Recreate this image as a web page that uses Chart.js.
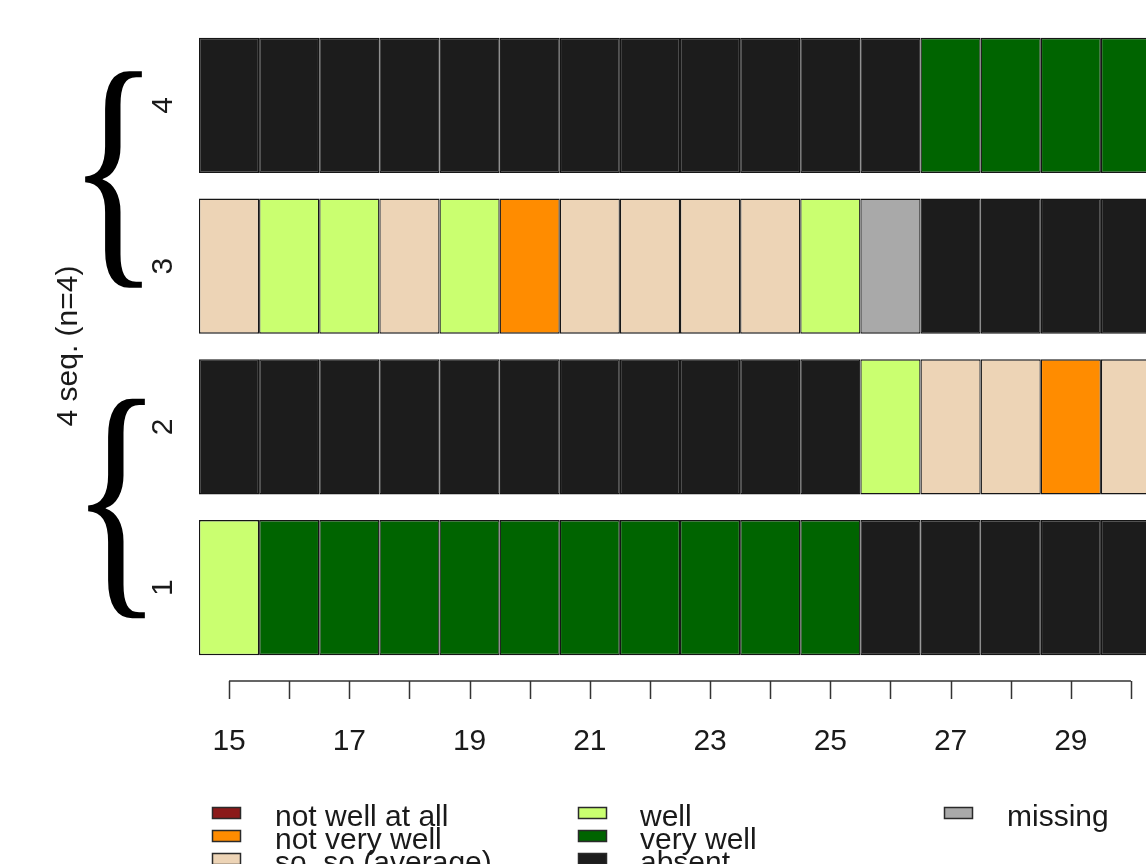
<!DOCTYPE html>
<html>
<head>
<meta charset="utf-8">
<script src="https://cdn.jsdelivr.net/npm/chart.js@4/dist/chart.umd.min.js"></script>
<style>
  html, body { margin: 0; padding: 0; background: #ffffff; }
  canvas { display: block; }
</style>
</head>
<body>
<canvas id="seqplot" width="1146" height="864"></canvas>
<script>
// Time positions (ages) of the sequence columns
const ages = [15, 16, 17, 18, 19, 20, 21, 22, 23, 24, 25, 26, 27, 28, 29, 30];

// State of each sequence at every age
const seq1 = ['well', 'very well', 'very well', 'very well', 'very well', 'very well', 'very well',
  'very well', 'very well', 'very well', 'very well', 'absent', 'absent', 'absent', 'absent', 'absent'];
const seq2 = ['absent', 'absent', 'absent', 'absent', 'absent', 'absent', 'absent', 'absent',
  'absent', 'absent', 'absent', 'well', 'so, so (average)', 'so, so (average)', 'not very well', 'so, so (average)'];
const seq3 = ['so, so (average)', 'well', 'well', 'so, so (average)', 'well', 'not very well',
  'so, so (average)', 'so, so (average)', 'so, so (average)', 'so, so (average)', 'well', 'missing',
  'absent', 'absent', 'absent', 'absent'];
const seq4 = ['absent', 'absent', 'absent', 'absent', 'absent', 'absent', 'absent', 'absent',
  'absent', 'absent', 'absent', 'absent', 'very well', 'very well', 'very well', 'very well'];

// Row labels, top to bottom
const seqLabels = ['4', '3', '2', '1'];
const seqRows = [seq4, seq3, seq2, seq1];

// Alphabet and colour palette
const states = ['not well at all', 'not very well', 'so, so (average)', 'well', 'very well', 'absent', 'missing'];
const stateColors = ['#8B1A1A', '#FF8C00', '#EDD4B6', '#CAFF70', '#006400', '#1C1C1C', '#A9A9A9'];

// Labelled x ticks
const xTickLabels = ['15', '17', '19', '21', '23', '25', '27', '29'];

const yTitle = '4 seq. (n=4)';

const colorOf = s => stateColors[states.indexOf(s)];

// One floating-bar dataset per age: each cell spans [age-0.5, age+0.5]
const datasets = ages.map((age, i) => ({
  label: String(age),
  data: seqRows.map(() => [age - 0.5, age + 0.5]),
  backgroundColor: seqRows.map(row => colorOf(row[i])),
  borderColor: '#161616',
  borderWidth: 1.3,
  borderSkipped: false,
  grouped: false,
  categoryPercentage: 1.0,
  barPercentage: 0.84
}));

const FONT = '"Liberation Sans", Arial, sans-serif';

// Curly brace glyph stretched to fill a box
function drawBrace(ctx, x0, x1, y0, y1) {
  ctx.save();
  ctx.font = '200px "Liberation Serif", "DejaVu Serif", serif';
  ctx.textAlign = 'left';
  ctx.textBaseline = 'alphabetic';
  const m = ctx.measureText('{');
  const w = m.actualBoundingBoxLeft + m.actualBoundingBoxRight;
  const h = m.actualBoundingBoxAscent + m.actualBoundingBoxDescent;
  ctx.translate(x0, y0);
  ctx.scale((x1 - x0) / w, (y1 - y0) / h);
  ctx.fillStyle = '#000000';
  ctx.fillText('{', m.actualBoundingBoxLeft, m.actualBoundingBoxAscent);
  ctx.restore();
}

// Axis, row labels, braces and legend in base-graphics style
const decorations = {
  id: 'decorations',
  afterDraw(chart) {
    const ctx = chart.ctx;
    const xs = chart.scales.x;
    const ys = chart.scales.y;
    ctx.save();

    // x axis: line from first to last age, tick at every age
    const axisY = 681;
    ctx.strokeStyle = '#333333';
    ctx.lineWidth = 1.5;
    ctx.beginPath();
    ctx.moveTo(xs.getPixelForValue(ages[0]), axisY);
    ctx.lineTo(xs.getPixelForValue(ages[ages.length - 1]), axisY);
    ages.forEach(a => {
      const px = Math.round(xs.getPixelForValue(a)) + 0.5;
      ctx.moveTo(px, axisY);
      ctx.lineTo(px, axisY + 18);
    });
    ctx.stroke();

    ctx.fillStyle = '#1a1a1a';
    ctx.font = '30px ' + FONT;
    ctx.textAlign = 'center';
    ctx.textBaseline = 'alphabetic';
    xTickLabels.forEach(t => {
      ctx.fillText(t, xs.getPixelForValue(parseFloat(t)), 750);
    });

    // row labels, rotated
    seqLabels.forEach((lab, i) => {
      const py = ys.getPixelForValue(i);
      ctx.save();
      ctx.translate(172, py);
      ctx.rotate(-Math.PI / 2);
      ctx.textAlign = 'center';
      ctx.textBaseline = 'alphabetic';
      ctx.fillText(lab, 0, 0);
      ctx.restore();
    });

    // y title
    ctx.save();
    ctx.translate(77, 346);
    ctx.rotate(-Math.PI / 2);
    ctx.textAlign = 'center';
    ctx.fillText(yTitle, 0, 0);
    ctx.restore();

    // braces grouping pairs of sequences
    const y4 = ys.getPixelForValue(0), y3 = ys.getPixelForValue(1);
    const y2 = ys.getPixelForValue(2), y1 = ys.getPixelForValue(3);
    drawBrace(ctx, 85, 142, y4 - 33, y3 + 22);
    drawBrace(ctx, 88, 145, y2 - 27, y1 + 31);

    // legend, three columns
    const cols = [
      { bx: 212, tx: 275, items: [0, 1, 2] },
      { bx: 578, tx: 640, items: [3, 4, 5] },
      { bx: 944, tx: 1007, items: [6] }
    ];
    ctx.font = '30px ' + FONT;
    ctx.textAlign = 'left';
    ctx.textBaseline = 'alphabetic';
    cols.forEach(c => {
      c.items.forEach((k, r) => {
        const top = 807 + r * 23;
        ctx.fillStyle = stateColors[k];
        ctx.fillRect(c.bx, top, 29, 12);
        ctx.strokeStyle = '#2a2a2a';
        ctx.lineWidth = 1.5;
        ctx.strokeRect(c.bx + 0.5, top + 0.5, 28, 11);
        ctx.fillStyle = '#1a1a1a';
        ctx.fillText(states[k], c.tx, top + 19);
      });
    });

    ctx.restore();
  }
};

new Chart(document.getElementById('seqplot'), {
  type: 'bar',
  data: { labels: seqLabels, datasets },
  options: {
    indexAxis: 'y',
    responsive: false,
    animation: false,
    devicePixelRatio: 1,
    layout: { padding: { left: 199, right: 0, top: 25, bottom: 196 } },
    scales: {
      x: { type: 'linear', min: 14.5, max: 30.25, display: false },
      y: { type: 'category', display: false, offset: true }
    },
    plugins: { legend: { display: false }, tooltip: { enabled: false } }
  },
  plugins: [decorations]
});
</script>
</body>
</html>
